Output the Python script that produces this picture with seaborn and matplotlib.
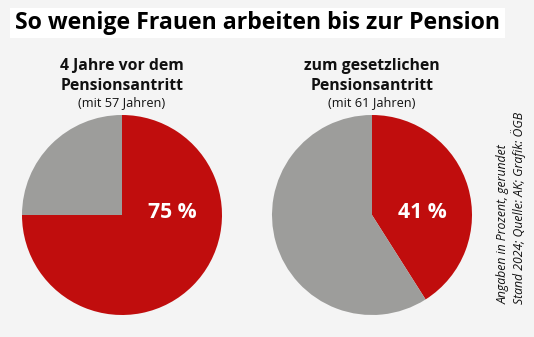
import matplotlib
matplotlib.use("Agg")
import matplotlib.pyplot as plt
from matplotlib.patches import Rectangle
import seaborn as sns

sns.set_theme(style="white")
plt.rcParams['font.family'] = ['Open Sans', 'DejaVu Sans']

title = "So wenige Frauen arbeiten bis zur Pension"
pie_titles = ["4 Jahre vor dem\nPensionsantritt", "zum gesetzlichen\nPensionsantritt"]
pie_subtitles = ["(mit 57 Jahren)", "(mit 61 Jahren)"]
working_share = [75, 41]
label_texts = ["75 %", "41 %"]
note = "Angaben in Prozent, gerundet\nStand 2024; Quelle: AK; Grafik: ÖGB"

red = "#c00d0d"
gray = "#9d9d9b"
bg = "#f4f4f4"

W, H = 534, 337
fig = plt.figure(figsize=(W / 100, H / 100), dpi=100, facecolor=bg)

fig.patches.append(Rectangle((10 / W, 1 - 38 / H), 495 / W, 30 / H,
                             transform=fig.transFigure, facecolor="white",
                             edgecolor="none", zorder=0))
fig.text(257.5 / W, 1 - 23 / H, title, fontsize=16.7, fontweight="bold", color="black",
         ha="center", va="center")

centers = [(122, 215), (372, 215)]
R = 100
for i, (cx, cy) in enumerate(centers):
    ax = fig.add_axes([(cx - R) / W, (H - cy - R) / H, 2 * R / W, 2 * R / H])
    ax.set_facecolor("none")
    v = working_share[i]
    ax.pie([v, 100 - v], colors=[red, gray], startangle=90, counterclock=False,
           radius=1, wedgeprops=dict(linewidth=0))
    ax.set_xlim(-1, 1)
    ax.set_ylim(-1, 1)
    ax.set_aspect("auto")
    ax.axis("off")
    ax.text(0.5, 0.03, label_texts[i], color="white", fontsize=15.2, fontweight="bold",
            ha="center", va="center")
    fig.text(cx / W, 1 - 76 / H, pie_titles[i], fontsize=11.3, fontweight="bold",
             ha="center", va="center", linespacing=1.35, color="#111111")
    fig.text(cx / W, 1 - 103 / H, pie_subtitles[i], fontsize=9.2,
             ha="center", va="center", color="#111111")

fig.text(511 / W, 1 - 304 / H, note, fontsize=8.8, style="italic", rotation=90,
         ha="center", va="bottom", multialignment="left", linespacing=1.1,
         color="#111111")

fig.savefig("out.png", dpi=100, facecolor=bg)
